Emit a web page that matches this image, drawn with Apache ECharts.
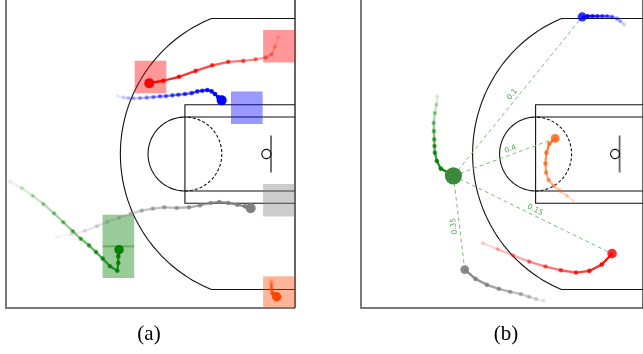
<!DOCTYPE html>
<html>
<head>
<meta charset="utf-8">
<script src="https://cdn.jsdelivr.net/npm/echarts@6/dist/echarts.min.js"></script>
<style>
  html, body { margin: 0; padding: 0; background: #fff; }
  #chart { width: 643px; height: 354px; }
</style>
</head>
<body>
<div id="chart"></div>
<script>
// Court units are feet: x runs from the half-court edge (0) to the baseline (47),
// y runs across the court width (0..50). Every track lists its newest sample first.

// ---- Panel (a): tracks and highlighted zones ----
const trackRedA = [[23.30,36.50],[25.58,36.89],[28.13,37.53],[30.85,38.50],[33.55,39.40],[36.15,39.95],[38.59,40.11],[40.61,40.37],[42.23,40.65],[43.21,41.18],[43.75,42.42],[44.28,44.03]];
const trackBlueA = [[35.08,33.71],[34.53,34.19],[33.99,34.73],[33.45,35.16],[32.74,35.37],[31.92,35.27],[31.11,35.16],[30.20,34.89],[29.11,34.73],[28.02,34.63],[27.05,34.52],[26.02,34.40],[25.05,34.35],[23.96,34.24],[22.88,34.15],[21.79,34.08],[20.70,34.03],[19.89,34.08],[19.08,34.19],[18.10,34.40]];
const trackGrayA = [[39.79,16.18],[38.87,16.50],[37.62,16.77],[36.15,17.05],[34.69,17.21],[33.29,17.05],[31.55,16.66],[29.76,16.34],[27.76,16.24],[25.74,16.34],[23.86,16.13],[22.07,15.81],[20.28,15.32],[18.38,14.63],[16.47,13.98],[14.75,13.27],[12.80,12.53],[10.68,11.94],[8.25,11.50]];
const trackGreenA = [[18.38,9.47],[18.26,8.39],[18.26,7.31],[18.10,6.05],[16.91,6.77],[15.73,8.02],[14.64,9.08],[13.50,10.16],[12.15,11.24],[10.85,12.47],[9.32,13.92],[7.81,15.37],[6.07,16.89],[4.34,18.23],[2.55,19.47],[0.65,20.53]];
const trackOrangeA = [[44.02,1.82],[43.35,2.40],[43.18,3.10],[43.15,3.80],[43.15,4.40]];

// Zone cells as [column, row]; the court is split into 9 columns x 10 rows
const cellsRedA = [[4,7],[8,8]];
const cellsBlueA = [[7,6]];
const cellsGrayA = [[8,3]];
const cellsGreenA = [[3,2],[3,1]];
const cellsOrangeA = [[8,0]];

// ---- Panel (b): tracks and link weights from the green player ----
const trackBlueB = [[36.87,47.26],[37.78,47.37],[38.59,47.37],[39.40,47.37],[40.22,47.37],[41.03,47.37],[41.84,47.26],[42.66,46.98],[43.21,46.56],[43.86,46.02]];
const trackGreenB = [[15.40,21.45],[13.29,22.63],[12.64,23.87],[12.31,25.21],[12.25,26.29],[12.20,27.37],[12.15,28.71],[12.12,30.05],[12.31,31.66],[12.57,33.02],[12.73,34.35]];
const trackOrangeB = [[32.36,27.53],[31.39,26.66],[30.90,25.21],[30.74,23.44],[30.85,21.98],[31.27,20.76],[32.09,19.84],[33.18,19.03],[34.36,18.23],[35.34,17.42]];
const trackRedB = [[41.84,8.82],[40.12,7.05],[38.05,6.02],[35.83,5.76],[33.29,6.13],[30.74,6.73],[28.02,7.53],[25.32,8.55],[22.77,9.56],[20.28,10.53]];
const trackGrayB = [[17.29,6.24],[19.08,4.73],[20.98,3.76],[22.98,3.11],[24.88,2.63],[26.67,2.26],[28.02,1.82],[29.22,1.45],[30.46,1.18]];
const linkWeightsB = [0.1, 0.4, 0.15, 0.35];
const linkTargetsB = [trackBlueB[0], trackOrangeB[0], trackRedB[0], trackGrayB[0]];

const panelLabels = ['(a)', '(b)'];

// ---- Court geometry (feet) ----
const COURT_LEN = 47, COURT_WID = 50, MID_Y = 25;
const HOOP_X = 42.35, HOOP_R = 0.75;
const BOARD_X = 43.1, BOARD_HALF = 3;
const THREE_R = 23.75, CORNER_OFF = 3;
const FT_X = 29.1, LANE_OUTER = 8, LANE_INNER = 6, FT_R = 6;
const CELL_COLS = 9, CELL_ROWS = 10;
// where each weight label sits along its link (fraction from the green player)
const LINK_LABEL_T = [0.49, 0.58, 0.5, 0.53];

const COLORS = {
  red: '#ff0000', blue: '#0000ff', gray: '#808080', green: '#008000',
  orangeA: '#ff4500', orangeB: '#ff6a1a', greenHead: '#3a8a3a', link: '#7dbb7d'
};

function fade(i, n) { return Math.max(0.05, 1 - i / n); }

function arcPts(cx, cy, r, t0, t1, steps) {
  const out = [];
  for (let k = 0; k <= steps; k++) {
    const t = t0 + (t1 - t0) * k / steps;
    out.push([cx + r * Math.cos(t), cy + r * Math.sin(t)]);
  }
  return out;
}

function courtSeries(panel) {
  return {
    type: 'custom', xAxisIndex: panel, yAxisIndex: panel, z: 1, silent: true,
    data: [[0, 0]],
    renderItem(params, api) {
      const els = [];
      const line = (pts, stroke, w, dash) => els.push({
        type: 'polyline',
        shape: { points: pts.map(p => api.coord(p)) },
        style: { stroke, lineWidth: w, fill: null, lineDash: dash || null }
      });
      // outer boundary: sideline and half-court edge grey, baseline black
      line([[0, COURT_WID], [0, 0], [COURT_LEN, 0]], '#7a7a7a', 2);
      line([[COURT_LEN, 0], [COURT_LEN, COURT_WID]], '#111', 1.3);
      // three-point line
      const a0 = Math.asin((MID_Y - CORNER_OFF) / THREE_R);
      const three = [[COURT_LEN, CORNER_OFF]]
        .concat(arcPts(HOOP_X, MID_Y, THREE_R, Math.PI + a0, Math.PI - a0, 80))
        .concat([[COURT_LEN, COURT_WID - CORNER_OFF]]);
      line(three, '#111', 1.1);
      // lane
      line([[COURT_LEN, MID_Y - LANE_OUTER], [FT_X, MID_Y - LANE_OUTER], [FT_X, MID_Y + LANE_OUTER], [COURT_LEN, MID_Y + LANE_OUTER]], '#111', 1.1);
      line([[FT_X, MID_Y - LANE_INNER], [COURT_LEN, MID_Y - LANE_INNER]], '#111', 1.1);
      line([[FT_X, MID_Y + LANE_INNER], [COURT_LEN, MID_Y + LANE_INNER]], '#111', 1.1);
      // free-throw circle: solid outside, dashed inside the lane
      line(arcPts(FT_X, MID_Y, FT_R, Math.PI / 2, Math.PI * 1.5, 50), '#111', 1.1);
      line(arcPts(FT_X, MID_Y, FT_R, -Math.PI / 2, Math.PI / 2, 50), '#111', 1.1, [3, 2]);
      // backboard and rim
      line([[BOARD_X, MID_Y - BOARD_HALF], [BOARD_X, MID_Y + BOARD_HALF]], '#666', 1.8);
      line(arcPts(HOOP_X, MID_Y, HOOP_R, 0, Math.PI * 2, 30), '#111', 1.1);
      return { type: 'group', children: els };
    }
  };
}

function cellSeries(cells, color) {
  const cw = COURT_LEN / CELL_COLS, ch = COURT_WID / CELL_ROWS;
  return {
    type: 'custom', xAxisIndex: 0, yAxisIndex: 0, z: 2, silent: true,
    data: cells,
    renderItem(params, api) {
      const c = api.value(0), r = api.value(1);
      const cx = (c + 0.5) * cw, cy = (r + 0.5) * ch;
      const hw = cw * 0.493, hh = ch * 0.53;
      const x0 = Math.max(0, cx - hw), x1 = Math.min(COURT_LEN, cx + hw);
      const y0 = Math.max(0, cy - hh), y1 = Math.min(COURT_WID, cy + hh);
      const p0 = api.coord([x0, y1]), p1 = api.coord([x1, y0]);
      return {
        type: 'rect',
        shape: { x: p0[0], y: p0[1], width: p1[0] - p0[0], height: p1[1] - p0[1] },
        style: { fill: color, opacity: 0.4 }
      };
    }
  };
}

function trackSeries(panel, pts, color, opt) {
  const n = pts.length;
  return {
    type: 'custom', xAxisIndex: panel, yAxisIndex: panel, z: 4, silent: true,
    data: pts,
    renderItem(params, api) {
      const i = params.dataIndex;
      const p = api.coord(pts[i]);
      const kids = [];
      if (i < n - 1) {
        const q = api.coord(pts[i + 1]);
        kids.push({
          type: 'line', z2: 2 * (n - i),
          shape: { x1: p[0], y1: p[1], x2: q[0], y2: q[1] },
          style: { stroke: color, lineWidth: 2.3, lineCap: 'round', opacity: fade(i + 0.5, n) }
        });
      }
      const head = i === 0;
      kids.push({
        type: 'circle', z2: 2 * (n - i) + 1,
        shape: { cx: p[0], cy: p[1], r: head ? opt.headR : 2.3 },
        style: {
          fill: head && opt.headColor ? opt.headColor : color,
          opacity: head ? (opt.headAlpha || 1) : fade(i, n)
        }
      });
      return { type: 'group', children: kids };
    }
  };
}

function linkSeries() {
  const src = trackGreenB[0];
  return {
    type: 'custom', xAxisIndex: 1, yAxisIndex: 1, z: 3, silent: true,
    data: linkTargetsB.map((t, i) => [t[0], t[1], linkWeightsB[i]]),
    renderItem(params, api) {
      const p0 = api.coord(src);
      const p1 = api.coord([api.value(0), api.value(1)]);
      let ang = Math.atan2(-(p1[1] - p0[1]), p1[0] - p0[0]);
      if (ang > Math.PI / 2) ang -= Math.PI;
      if (ang < -Math.PI * 0.4) ang += Math.PI;
      const t = LINK_LABEL_T[params.dataIndex], off = 5.5;
      const mx = p0[0] + (p1[0] - p0[0]) * t, my = p0[1] + (p1[1] - p0[1]) * t;
      const lx = mx - Math.sin(ang) * off, ly = my - Math.cos(ang) * off;
      return {
        type: 'group',
        children: [
          {
            type: 'line',
            shape: { x1: p0[0], y1: p0[1], x2: p1[0], y2: p1[1] },
            style: { stroke: COLORS.link, lineWidth: 1, lineDash: [4, 3] }
          },
          {
            type: 'text', x: lx, y: ly, rotation: ang,
            style: {
              text: String(api.value(2)), fill: '#55a355',
              font: '7.5px "DejaVu Sans"', align: 'center', verticalAlign: 'middle'
            }
          }
        ]
      };
    }
  };
}

const chart = echarts.init(document.getElementById('chart'));
const gridDefs = [
  { left: 6, top: -2, width: 289, height: 310 },
  { left: 361, top: -2, width: 289, height: 310 }
];

chart.setOption({
  animation: false,
  grid: gridDefs,
  xAxis: gridDefs.map((g, i) => ({ type: 'value', gridIndex: i, min: 0, max: COURT_LEN, show: false })),
  yAxis: gridDefs.map((g, i) => ({ type: 'value', gridIndex: i, min: 0, max: COURT_WID, show: false })),
  graphic: [
    { type: 'text', x: 149, y: 334, style: { text: panelLabels[0], fill: '#000', font: '21px "Liberation Serif"', align: 'center', verticalAlign: 'middle' } },
    { type: 'text', x: 506, y: 334, style: { text: panelLabels[1], fill: '#000', font: '21px "Liberation Serif"', align: 'center', verticalAlign: 'middle' } }
  ],
  series: [
    courtSeries(0),
    courtSeries(1),
    cellSeries(cellsRedA, COLORS.red),
    cellSeries(cellsBlueA, COLORS.blue),
    cellSeries(cellsGrayA, COLORS.gray),
    cellSeries(cellsGreenA, COLORS.green),
    cellSeries(cellsOrangeA, COLORS.orangeA),
    trackSeries(0, trackRedA, COLORS.red, { headR: 5 }),
    trackSeries(0, trackBlueA, COLORS.blue, { headR: 5 }),
    trackSeries(0, trackGrayA, COLORS.gray, { headR: 5 }),
    trackSeries(0, trackGreenA, COLORS.green, { headR: 4.7 }),
    trackSeries(0, trackOrangeA, COLORS.orangeA, { headR: 4.7 }),
    linkSeries(),
    trackSeries(1, trackBlueB, COLORS.blue, { headR: 4.6, headAlpha: 0.82 }),
    trackSeries(1, trackGreenB, COLORS.green, { headR: 8.6, headColor: COLORS.greenHead }),
    trackSeries(1, trackOrangeB, COLORS.orangeB, { headR: 4.4, headAlpha: 0.9 }),
    trackSeries(1, trackRedB, COLORS.red, { headR: 4.8, headAlpha: 0.82 }),
    trackSeries(1, trackGrayB, COLORS.gray, { headR: 4.4, headAlpha: 0.9 })
  ]
});
</script>
</body>
</html>
